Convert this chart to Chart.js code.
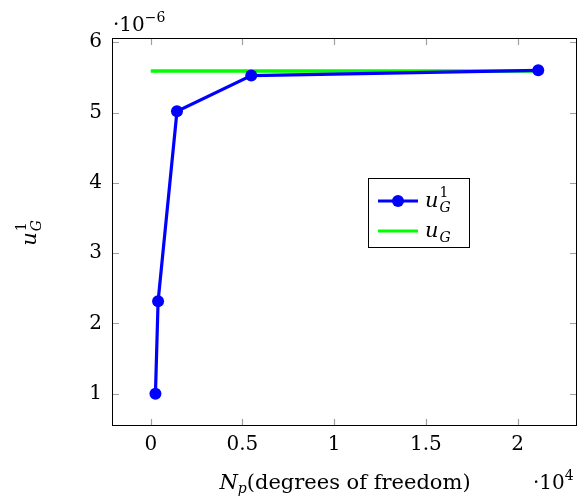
<!DOCTYPE html>
<html><head><meta charset="utf-8">
<script src="https://cdn.jsdelivr.net/npm/chart.js@4"></script>
<style>html,body{margin:0;padding:0;background:#fff;}</style>
</head><body>
<canvas id="c" width="578" height="500"></canvas>
<script>
// Data (uG values in units of 1e-6, x in degrees of freedom)
const dofValues = [256, 400, 1430, 5480, 21130];
const uG1Values = [1.0, 2.314, 5.018, 5.526, 5.6];
const uGRefX = [0, 21130];
const uGRefValues = [5.59, 5.59];
const xTickValues = [0, 5000, 10000, 15000, 20000];
const xTickLabels = ['0', '0.5', '1', '1.5', '2'];
const yTickValues = [1, 2, 3, 4, 5, 6];
const yTickLabels = ['1', '2', '3', '4', '5', '6'];

const SERIF = '"DejaVu Serif", "Liberation Serif", serif';
const F = (size, italic) => (italic ? 'italic ' : '') + size + 'px ' + SERIF;

function partWidth(ctx, p) {
  if (p.stack) return Math.max(...p.stack.map(q => { ctx.font = q.f; return ctx.measureText(q.t).width; }));
  ctx.font = p.f; return ctx.measureText(p.t).width + (p.gap || 0);
}
function drawParts(ctx, parts, x, y, align) {
  let total = parts.reduce((s, p) => s + partWidth(ctx, p), 0);
  let cx = align === 'center' ? x - total / 2 : x;
  ctx.textBaseline = 'alphabetic';
  ctx.textAlign = 'left';
  for (const p of parts) {
    const w = partWidth(ctx, p);
    if (p.stack) {
      for (const q of p.stack) { ctx.font = q.f; ctx.fillText(q.t, cx, y + q.dy); }
    } else {
      ctx.font = p.f; ctx.fillText(p.t, cx, y + (p.dy || 0));
    }
    cx += w;
  }
}
const uG1Parts = () => [{ t: 'u', f: F(21, true), gap: 1 }, { stack: [{ t: '1', f: F(14), dy: -10 }, { t: 'G', f: F(14, true), dy: 5 }] }];
const uGParts = () => [{ t: 'u', f: F(21, true), gap: 1 }, { t: 'G', f: F(14, true), dy: 5 }];

const decor = {
  id: 'decor',
  afterDraw(chart) {
    const ctx = chart.ctx, a = chart.chartArea;
    const sx = chart.scales.x, sy = chart.scales.y;
    ctx.save();
    // tick marks inside on all four sides
    ctx.strokeStyle = '#a0a0a0'; ctx.lineWidth = 1.2;
    ctx.beginPath();
    xTickValues.forEach(v => {
      const px = Math.round(sx.getPixelForValue(v)) + 0.5;
      ctx.moveTo(px, a.bottom); ctx.lineTo(px, a.bottom - 7);
      ctx.moveTo(px, a.top); ctx.lineTo(px, a.top + 7);
    });
    yTickValues.forEach(v => {
      const py = Math.round(sy.getPixelForValue(v)) + 0.5;
      ctx.moveTo(a.left, py); ctx.lineTo(a.left + 7, py);
      ctx.moveTo(a.right, py); ctx.lineTo(a.right - 7, py);
    });
    ctx.stroke();
    // frame
    ctx.strokeStyle = '#000'; ctx.lineWidth = 1;
    ctx.strokeRect(a.left + 0.5, a.top + 0.5, a.right - a.left - 1, a.bottom - a.top - 1);
    ctx.fillStyle = '#000';
    // exponent labels
    drawParts(ctx, [{ t: '·10', f: F(20) }, { t: '−6', f: F(14), dy: -9 }], 113, 31, 'left');
    drawParts(ctx, [{ t: '·10', f: F(20) }, { t: '4', f: F(14), dy: -9 }], 533, 489, 'left');
    // x title
    drawParts(ctx, [{ t: 'N', f: F(21, true) }, { t: 'p', f: F(14, true), dy: 4 }, { t: '(degrees of freedom)', f: F(21) }], 345, 489, 'center');
    // y title rotated
    ctx.save();
    ctx.translate(36, 233); ctx.rotate(-Math.PI / 2);
    drawParts(ctx, uG1Parts(), 0, 0, 'center');
    ctx.restore();
    // legend
    const lx = 368, ly = 178, lw = 102, lh = 70;
    ctx.fillStyle = '#fff'; ctx.fillRect(lx, ly, lw, lh);
    ctx.strokeStyle = '#000'; ctx.lineWidth = 1;
    ctx.strokeRect(lx + 0.5, ly + 0.5, lw - 1, lh - 1);
    ctx.lineWidth = 3.2;
    ctx.strokeStyle = '#0000ff';
    ctx.beginPath(); ctx.moveTo(378, 201); ctx.lineTo(418, 201); ctx.stroke();
    ctx.fillStyle = '#0000ff'; ctx.beginPath(); ctx.arc(398, 201, 6, 0, Math.PI * 2); ctx.fill();
    ctx.strokeStyle = '#00ff00';
    ctx.beginPath(); ctx.moveTo(378, 231); ctx.lineTo(418, 231); ctx.stroke();
    ctx.fillStyle = '#000';
    drawParts(ctx, uG1Parts(), 425, 207, 'left');
    drawParts(ctx, uGParts(), 425, 237, 'left');
    ctx.restore();
  }
};

new Chart(document.getElementById('c'), {
  type: 'line',
  data: {
    datasets: [
      {
        label: 'uG1',
        data: dofValues.map((x, i) => ({ x, y: uG1Values[i] })),
        borderColor: '#0000ff', backgroundColor: '#0000ff',
        borderWidth: 3.2, pointRadius: 6, pointHoverRadius: 6, pointBorderWidth: 0,
        tension: 0
      },
      {
        label: 'uG',
        data: uGRefX.map((x, i) => ({ x, y: uGRefValues[i] })),
        borderColor: '#00ff00', backgroundColor: '#00ff00',
        borderWidth: 3.5, pointRadius: 0, tension: 0
      }
    ]
  },
  options: {
    responsive: false, animation: false, devicePixelRatio: 1,
    layout: { autoPadding: false, padding: { top: 38, right: 1, left: 0, bottom: 0 } },
    plugins: { legend: { display: false }, tooltip: { enabled: false } },
    scales: {
      x: {
        type: 'linear', min: -2113, max: 23243,
        afterBuildTicks: s => { s.ticks = xTickValues.map(v => ({ value: v })); },
        afterFit: s => { s.height = 74; s.paddingLeft = 0; s.paddingRight = 0; },
        ticks: { callback: (v, i) => xTickLabels[i], font: { family: SERIF, size: 20 }, color: '#000', padding: 7, maxRotation: 0, autoSkip: false },
        grid: { display: false, drawTicks: false }, border: { display: false }
      },
      y: {
        type: 'linear', min: 0.54, max: 6.06,
        afterBuildTicks: s => { s.ticks = yTickValues.map(v => ({ value: v })); },
        afterFit: s => { s.width = 112; s.paddingTop = 0; s.paddingBottom = 0; },
        ticks: { callback: (v, i) => yTickLabels[i], font: { family: SERIF, size: 20 }, color: '#000', padding: 10, autoSkip: false },
        grid: { display: false, drawTicks: false }, border: { display: false }
      }
    }
  },
  plugins: [decor]
});
</script>
</body></html>
